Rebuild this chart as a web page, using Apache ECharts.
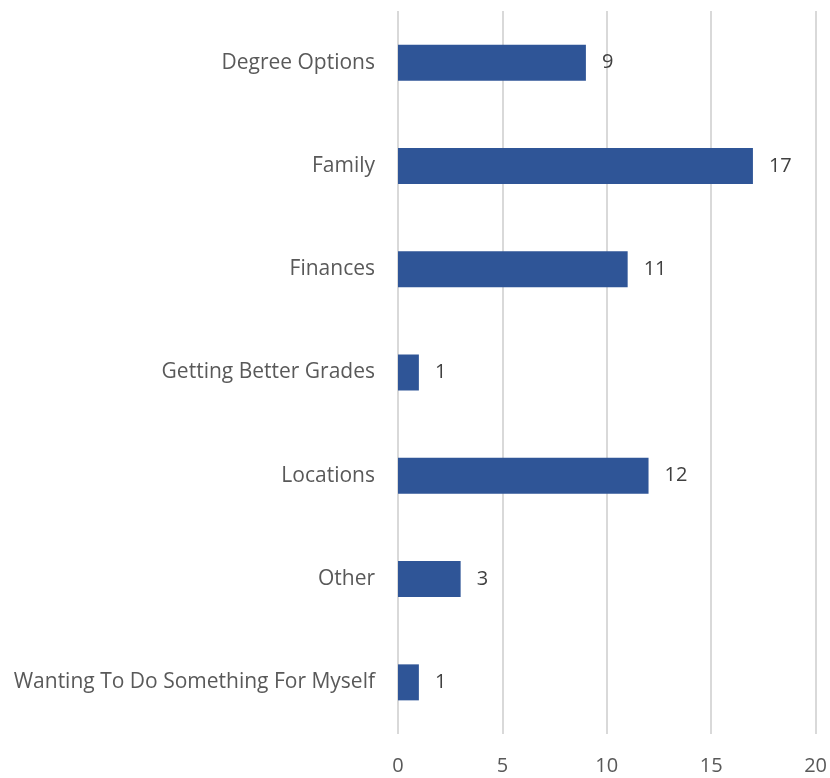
<!DOCTYPE html>
<html><head><meta charset="utf-8">
<script src="https://cdn.jsdelivr.net/npm/echarts@6/dist/echarts.min.js"></script>
<style>html,body{margin:0;padding:0;background:#fff}#c{width:830px;height:778px}</style>
</head><body><div id="c"></div>
<script>
const categories = ["Degree Options","Family","Finances","Getting Better Grades","Locations","Other","Wanting To Do Something For Myself"];
const values = [9,17,11,1,12,3,1];
const xTicks = {min:0,max:20,interval:5};

const chart = echarts.init(document.getElementById('c'));
const font = '"Open Sans", sans-serif';
chart.setOption({
  animation:false,
  grid:{left:398,right:14,top:11,bottom:44,containLabel:false},
  xAxis:{type:'value',min:xTicks.min,max:xTicks.max,interval:xTicks.interval,
    axisLine:{show:false},axisTick:{show:false},
    splitLine:{lineStyle:{color:'#D9D9D9',width:2}},
    axisLabel:{color:'#595959',fontSize:20,fontFamily:font,margin:22}},
  yAxis:{type:'category',data:categories,inverse:true,
    axisLine:{show:false},axisTick:{show:false},
    axisLabel:{color:'#595959',fontSize:21,fontFamily:font,margin:23}},
  series:[{type:'bar',data:values,barWidth:36,
    itemStyle:{color:'#2F5597'},
    label:{show:true,position:'right',distance:16,color:'#404040',fontSize:20,fontFamily:font}}]
});
</script></body></html>
